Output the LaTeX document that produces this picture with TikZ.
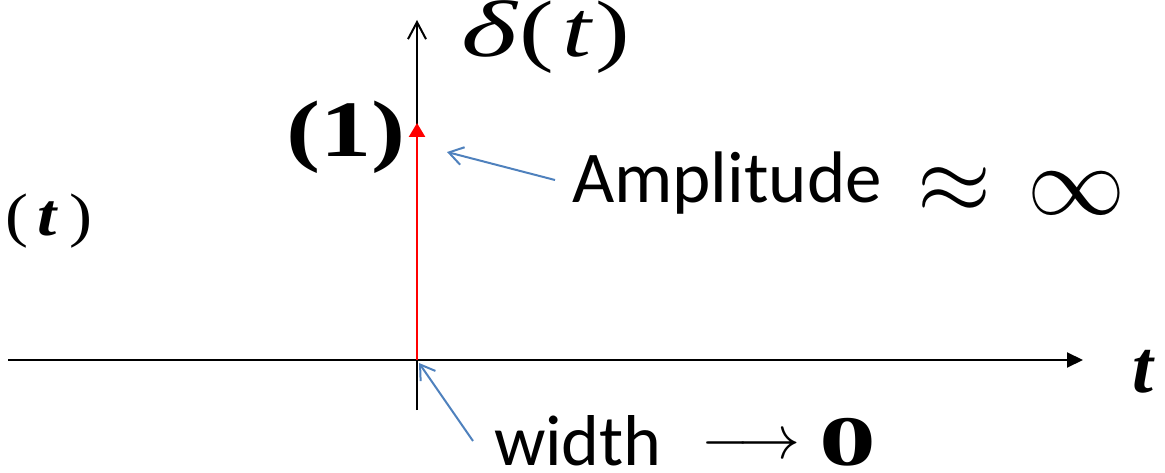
\documentclass[tikz,border=0pt]{standalone}
\usepackage{graphicx}
\usepackage{fontspec}
\setmainfont{Liberation Serif}
\newfontfamily\calibri{Carlito}
\usetikzlibrary{arrows.meta}
\definecolor{callout}{RGB}{79,129,189}
\definecolor{pulse}{RGB}{255,0,0}
\begin{document}
\begin{tikzpicture}[x=1pt,y=-1pt,
  axis/.style={line width=2pt,black},
  note/.style={line width=2pt,callout,-{Straight Barb[length=14pt,width=18pt,line width=2pt]}},
  lbl/.style={inner sep=0pt,outer sep=0pt}]
\useasboundingbox (0,0) rectangle (1165,473);
% axes
\coordinate (xs) at (8,360);
\coordinate (xe) at (1083,360);
\coordinate (ys) at (417,410);
\coordinate (ye) at (417,20);
\coordinate (o) at (417,360);
\coordinate (pk) at (417,123);
\draw[axis,-{Triangle[length=16pt,width=15pt]}] (xs) -- (xe);
\draw[axis,-{Straight Barb[length=17pt,width=18pt,line width=2pt]}] (ys) -- (ye);
\draw[line width=2.5pt,pulse,-{Triangle[length=14pt,width=16pt]}] (o) -- (pk);
% labels
\node[lbl,anchor=base west] (dl) at (461,57) {\scalebox{1.3}[1]{\fontsize{80}{90}\selectfont\scalebox{1.15}[1]{\itshape δ}\kern2pt(\kern7pt{\itshape t}\kern3pt)}};
\node[lbl,anchor=base] (one) at (346,157) {\scalebox{1.28}[1]{\fontsize{80}{90}\selectfont\bfseries (1)}};
\node[lbl,anchor=base] (tl) at (49,236) {\scalebox{1.15}[1]{\fontsize{60}{64}\selectfont (\kern8pt\textbf{\textit{t}}\kern10pt)}};
\node[lbl,anchor=base west] (amp) at (572,203) {\fontsize{73}{80}\selectfont\calibri Amplitude};
\node[lbl] (approx) at (954,191) {\scalebox{9.5}{$\approx$}};
\node[lbl] (inf) at (1076,193) {\scalebox{9.8}{$\infty$}};
\node[lbl,anchor=base west] (wid) at (494,465) {\fontsize{72}{80}\selectfont\calibri width};
\node[lbl] (arr) at (751,447) {\scalebox{6.2}{$\longrightarrow$}};
\node[lbl,anchor=base] (zero) at (848,465) {\fontsize{71}{80}\selectfont\bfseries\scalebox{1.6}[1]{0}};
\node[lbl,anchor=base] (tr) at (1143,392) {\fontsize{75}{80}\selectfont\bfseries\itshape t};
% callouts
\coordinate (a1s) at (555,180);
\coordinate (a1e) at (447,152);
\coordinate (a2s) at (473,441);
\coordinate (a2e) at (419,363);
\draw[note] (a1s) -- (a1e);
\draw[note] (a2s) -- (a2e);
\end{tikzpicture}
\end{document}
